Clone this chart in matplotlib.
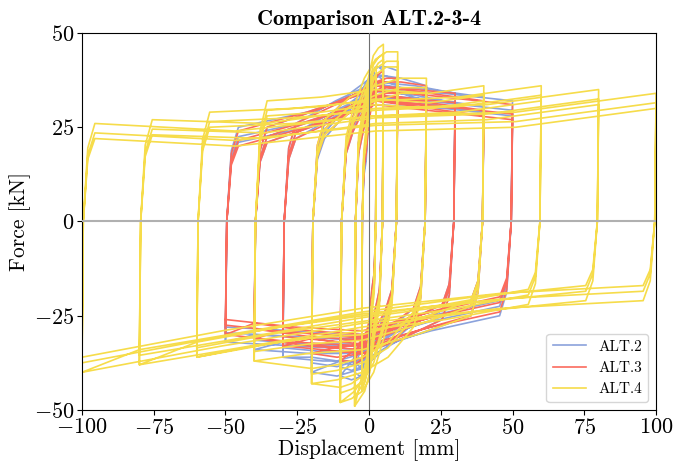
import numpy as np
import matplotlib
matplotlib.use("Agg")
import matplotlib.pyplot as plt

plt.rcParams["font.family"] = "serif"
plt.rcParams["font.serif"] = ["cmr10"]
plt.rcParams["mathtext.fontset"] = "cm"
plt.rcParams["axes.formatter.use_mathtext"] = True

# ---------------------------------------------------------------------------
# Data: amplitudes [mm] and branch forces [kN]
# upper rows: forces along the upper branch, from just after reversal at -A to +A
# lower rows: forces along the lower branch, from just after reversal at +A to -A
# ---------------------------------------------------------------------------

ALT2_AMP = [2.5, 5, 10, 20, 30, 40, 50]
ALT2_UPPER = [
    [20, 32, 38, 40, 38],
    [28, 36, 40, 41, 40],
    [28, 36, 41, 41, 40],
    [26, 34, 39, 38, 36],
    [26, 32, 37, 36, 34],
    [25, 30, 36, 35, 33],
    [25, 29, 35, 34, 32],
]
ALT2_LOWER = [
    [-22, -32, -36, -37, -36],
    [-28, -36, -40, -41, -40],
    [-28, -36, -41, -42, -41],
    [-27, -33, -39, -41, -40],
    [-26, -31, -37, -37, -36],
    [-25, -30, -35, -35, -34],
    [-25, -29, -34, -33, -32],
]

ALT3_AMP = [2.5, 5, 10, 20, 30, 40, 50]
ALT3_UPPER = [
    [22, 30, 34, 36, 36],
    [28, 34, 37, 39, 40],
    [28, 34, 37, 38, 38],
    [27, 33, 37, 37, 36],
    [26, 31, 36, 35, 34],
    [25, 30, 36, 34, 32],
    [24, 29, 35, 33, 31],
]
ALT3_LOWER = [
    [-22, -30, -33, -34, -34],
    [-28, -33, -36, -37, -38],
    [-28, -33, -36, -37, -37],
    [-27, -32, -35, -36, -35],
    [-26, -31, -35, -34, -33],
    [-25, -29, -34, -33, -31],
    [-24, -28, -33, -32, -30],
]

ALT4_AMP = [2.5, 5, 10, 20, 40, 60, 80, 100]
ALT4_UPPER = [
    [25, 33, 38, 40, 41],
    [30, 38, 44, 46, 47],
    [30, 38, 43, 45, 45],
    [27, 33, 36, 38, 38],
    [32, 33, 35, 34, 36],
    [29, 30, 32, 33, 36],
    [27, 26, 30, 31, 35],
    [26, 24, 28, 29, 34],
]
ALT4_LOWER = [
    [-25, -33, -40, -43, -45],
    [-30, -40, -45, -47, -49],
    [-30, -40, -45, -47, -48],
    [-28, -36, -40, -42, -43],
    [-25, -30, -34, -35, -37],
    [-22, -26, -29, -32, -36],
    [-21, -24, -28, -33, -38],
    [-21, -23, -27, -33, -40],
]

# strength drop of repeated cycles at the same amplitude [kN]
CYCLE_DROP = [0.0, 2.5, 4.0]

SPECIMENS = [
    {"label": "ALT.2", "amp": ALT2_AMP, "upper": ALT2_UPPER, "lower": ALT2_LOWER, "color": "#8ba2dc"},
    {"label": "ALT.3", "amp": ALT3_AMP, "upper": ALT3_UPPER, "lower": ALT3_LOWER, "color": "#fb6b5d"},
    {"label": "ALT.4", "amp": ALT4_AMP, "upper": ALT4_UPPER, "lower": ALT4_LOWER, "color": "#f6dc4a"},
]

RAMP = 4.5   # mm, width of the reloading ramp after a reversal


def build_path(amps, upper, lower):
    """Chain all cycles of one specimen into a single polyline."""
    xs, ys = [], []
    for A, U, L in zip(amps, upper, lower):
        r = min(RAMP, 0.6 * A)
        for d in CYCLE_DROP:
            u = np.array(U, dtype=float) - d
            lo = np.array(L, dtype=float) + d
            # reversal at -A, reload towards positive
            xs += [-A, -A + 0.1 * r, -A + 0.45 * r]
            ys += [lo[-1], 0.0, 0.75 * u[0]]
            xs += list(np.linspace(-A + r, A, len(u)))
            ys += list(u)
            # reversal at +A, unload towards negative
            xs += [A - 0.1 * r, A - 0.45 * r]
            ys += [0.0, 0.75 * lo[0]]
            xs += list(np.linspace(A - r, -A, len(lo)))
            ys += list(lo)
    return np.array(xs), np.array(ys)


fig = plt.figure(figsize=(6.73, 4.66), dpi=100)
ax = fig.add_axes([0.1218, 0.1202, 0.853, 0.809])

for sp in SPECIMENS:
    x, y = build_path(sp["amp"], sp["upper"], sp["lower"])
    ax.plot(x, y, color=sp["color"], lw=1.2, label=sp["label"])

ax.axhline(0, color="#b0b0b0", lw=1.5, zorder=3)
ax.axvline(0, color="#707070", lw=0.8, zorder=3)

ax.set_xlim(-100, 100)
ax.set_ylim(-50, 50)
ax.set_xticks([-100, -75, -50, -25, 0, 25, 50, 75, 100])
ax.set_yticks([-50, -25, 0, 25, 50])
ax.tick_params(labelsize=16, pad=2)
ax.set_xlabel("Displacement [mm]", fontsize=15.5, labelpad=1)
ax.set_ylabel("Force [kN]", fontsize=15.5, labelpad=2)
ax.set_title("Comparison ALT.2-3-4", fontsize=16, family="cmb10", pad=6)

ax.legend(loc="lower right", fontsize=11, handlelength=2.2)

fig.savefig("out.png", dpi=100)
